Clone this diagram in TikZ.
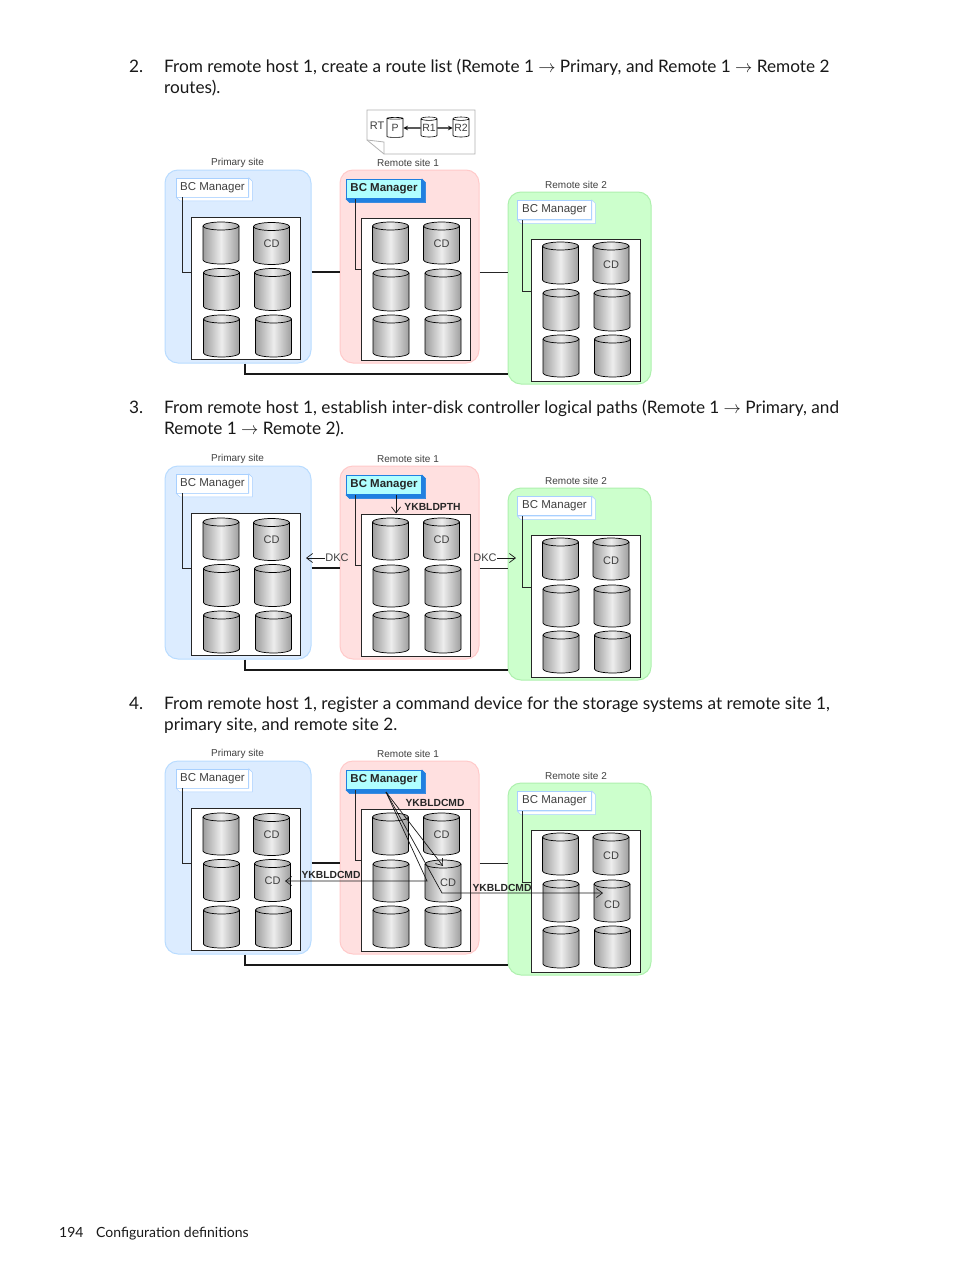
\documentclass[tikz,border=0pt]{standalone}
\usepackage{fontspec}
\setmainfont{Lato}
\newfontfamily\diagfont{Liberation Sans}
\usetikzlibrary{shapes.geometric,arrows.meta}
\definecolor{siteblue}{HTML}{DCECFF}
\definecolor{siteblueedge}{HTML}{B9DCFF}
\definecolor{sitered}{HTML}{FFE0E0}
\definecolor{siterededge}{HTML}{FFCACA}
\definecolor{sitegreen}{HTML}{CCFFCC}
\definecolor{sitegreenedge}{HTML}{AEF0AE}
\definecolor{mgrcyan}{HTML}{B0FFFF}
\definecolor{mgrdark}{HTML}{2080E0}
\definecolor{mgrpale}{HTML}{A8D0FF}
\tikzstyle{arrow} = [->,>=stealth]
\tikzstyle{openarrow} = [-{Straight Barb[length=6pt,width=9pt]},black!90,line width=.7pt]
\tikzstyle{site} = [rounded corners=13pt,line width=1pt,inner sep=0pt,draw]
\tikzstyle{diskbox} = [draw=black!85,fill=white,line width=1pt,inner sep=0pt,minimum width=109pt,minimum height=142pt]
\tikzstyle{drumshade} = [left color=black!38,right color=black!38,middle color=black!7,draw=black,line width=.7pt]
\tikzstyle{drumspot} = [inner sep=0pt,minimum width=36pt,minimum height=42pt]
\tikzstyle{smalldrum} = [cylinder,shape border rotate=90,shape aspect=.25,draw=black,line width=.6pt,inner sep=0pt,fill=white,
  minimum width=16pt,minimum height=20pt,font=\diagfont\fontsize{10.5}{12}\selectfont,text=black!75]
\tikzstyle{cdtext} = [font=\diagfont\fontsize{11}{12}\selectfont,text=black!75,inner sep=0pt]
\tikzstyle{sitetext} = [font=\diagfont\fontsize{10}{12}\selectfont,text=black!75,inner sep=0pt]
\tikzstyle{boldtext} = [font=\diagfont\bfseries\fontsize{10.3}{12}\selectfont,text=black!85,inner sep=0pt]
\tikzstyle{mgrplain} = [draw=mgrpale,fill=white,line width=.6pt,inner sep=0pt,font=\diagfont\fontsize{11.5}{13}\selectfont,text=black!75]
\tikzstyle{mgrbold} = [draw=mgrdark,fill=mgrcyan,line width=.6pt,inner sep=0pt,font=\diagfont\bfseries\fontsize{11.5}{13}\selectfont,text=black!85]
\tikzstyle{wire} = [black!85,line width=.8pt]
\tikzstyle{link} = [black!90,line width=1.1pt]
\tikzstyle{body} = [anchor=base west,inner sep=0pt,font=\fontsize{17.2}{20}\selectfont,text=black!90]
\newcommand{\mgrside}[3]{\fill[#3,draw=#2,line width=.5pt] (#1.south west) -- ++(3.5,3.5) -| ([shift={(3.5pt,-3.5pt)}]#1.north east) -- (#1.north east) -- (#1.south east) -- cycle;}
\newcommand{\drumat}[3]{%
  \shade[drumshade] ({#2-18},{#3-17}) -- ({#2-18},{#3+17}) arc[start angle=180,end angle=360,x radius=18pt,y radius=4pt]
    -- ({#2+18},{#3-17}) arc[start angle=0,end angle=180,x radius=18pt,y radius=4pt] -- cycle;
  \draw[black,line width=.7pt] ({#2-18},{#3-17}) arc[start angle=180,end angle=360,x radius=18pt,y radius=4pt];
  \node[drumspot] at (#2,#3) (#1) {};}
\begin{document}
\begin{tikzpicture}[x=1pt,y=-1pt]
        \useasboundingbox (0,0) rectangle (954,1271);
        \fill[white] (0,0) rectangle (954,1271);

        % step text
        \node[body] (n2) at (129,73) {2.};
        \node[body] (t2a) at (164,73) {From remote host 1, create a route list (Remote 1 $\rightarrow$ Primary, and Remote 1 $\rightarrow$ Remote 2};
        \node[body] (t2b) at (164,94) {routes).};
        \node[body] (n3) at (129,413) {3.};
        \node[body] (t3a) at (164,413) {From remote host 1, establish inter-disk controller logical paths (Remote 1 $\rightarrow$ Primary, and};
        \node[body] (t3b) at (164,434) {Remote 1 $\rightarrow$ Remote 2).};
        \node[body] (n4) at (129,709) {4.};
        \node[body] (t4a) at (164,709) {From remote host 1, register a command device for the storage systems at remote site 1,};
        \node[body] (t4b) at (164,730) {primary site, and remote site 2.};
        \node[body,font=\fontsize{14}{17}\selectfont] (pageno) at (59,1237) {194};
        \node[body,font=\fontsize{14}{17}\selectfont] (foot) at (96,1237) {Configuration definitions};

        % route list note
        \draw[black!30,fill=white,line width=.8pt] (367,110) -- (475,110) -- (475,154) -- (384,154) -- (367,140) -- cycle;
        \draw[black!30,line width=.8pt] (367,140) -- (384,142) -- (384,154);
        \node[cdtext] (rt) at (377,126) {RT};
        \node[smalldrum] (rtP) at (395,128) {P};
        \node[smalldrum] (rtA) at (429,128) {R1};
        \node[smalldrum] (rtB) at (461,128) {R2};
        \draw[arrow,line width=1.1pt] (rtA) -- (rtP);
        \draw[arrow,line width=1.1pt] (rtA) -- (rtB);

        \foreach \p/\dy in {a/0,b/296,c/591}{
        \begin{scope}[shift={(0,\dy)}]
        \node[site,draw=siteblueedge,fill=siteblue,minimum width=146pt,minimum height=193pt] at (238,266.5) (\p siteA) {};
        \node[site,draw=siterededge,fill=sitered,minimum width=139pt,minimum height=193pt] at (409.5,266.5) (\p siteB) {};
        \node[site,draw=sitegreenedge,fill=sitegreen,minimum width=143pt,minimum height=192pt] at (579.5,288) (\p siteC) {};
        \node[sitetext] at (237.5,162.5) (\p capA) {Primary site};
        \node[sitetext] at (408,162.5) (\p capB) {Remote site 1};
        \node[sitetext] at (576,184.5) (\p capC) {Remote site 2};

        \node[diskbox] at (246,288) (\p boxA) {};
        \node[diskbox] at (416,289) (\p boxB) {};
        \node[diskbox] at (586,310) (\p boxC) {};

        \foreach \q/\x/\y in {A1/221/243,A2/271.5/243.5,A3/221.5/289.5,A4/272.5/289.5,A5/221.5/336,A6/273.5/336,
                              B1/390.5/243,B2/441.5/243,B3/391/290,B4/443/290,B5/391/336,B6/443/336,
                              C1/560.5/263,C2/611/263,C3/561/310,C4/612/310,C5/561/356,C6/612.5/356}{
            \drumat{\p drum\q}{\x}{\y}
        }
        \foreach \q/\x/\y in {A2/271.5/244,B2/441.5/243.5,C2/611/265}
            \node[cdtext] at (\x,\y) (\p cd\q) {CD};

        \node[mgrplain,minimum width=72pt,minimum height=19pt] at (212.5,187.5) (\p mgrA) {BC Manager};
        \node[mgrbold,minimum width=75.5pt,minimum height=19.5pt] at (384,189) (\p mgrB) {BC Manager};
        \node[mgrplain,minimum width=74pt,minimum height=19.5pt] at (554.5,210) (\p mgrC) {BC Manager};
        \mgrside{\p mgrA}{mgrpale}{white}
        \mgrside{\p mgrB}{mgrdark}{mgrdark}
        \mgrside{\p mgrC}{mgrpale}{white}

        \draw[wire] ([xshift=6pt]\p mgrA.south west) |- ([yshift=16pt]\p boxA.west);
        \draw[wire] ([xshift=9pt]\p mgrB.south west) |- ([yshift=20pt]\p boxB.west);
        \draw[wire] ([xshift=5.5pt]\p mgrC.south west) |- ([yshift=19pt]\p boxC.west);

        \draw[link] ([yshift=-5.5pt]\p siteA.east) -- ([yshift=-5.5pt]\p siteB.west);
        \draw[wire] ([yshift=-5.5pt]\p siteB.east) -- ([yshift=16pt]\p siteC.west);
        \draw[link] ([xshift=7pt]\p siteA.south) |- ([yshift=-86pt]\p siteC.west);
        \end{scope}
        }

        % step 3: controller paths
        \node[sitetext,font=\diagfont\fontsize{11}{13}\selectfont] at (337,558) (dkcL) {DKC};
        \node[sitetext,font=\diagfont\fontsize{11}{13}\selectfont] at (485,558) (dkcR) {DKC};
        \node[boldtext] at (432.5,507) (pth) {YKBLDPTH};
        \coordinate (dkcLend) at (306,558);
        \coordinate (dkcRend) at (516,558);
        \draw[openarrow] (dkcL) -- (dkcLend);
        \draw[openarrow] (dkcR) -- (dkcRend);
        \draw[openarrow] ([xshift=12pt]bmgrB.south) -- ([xshift=-20pt]bboxB.north);

        % step 4: command devices
        \node[cdtext] at (272.5,881) (ccdA4) {CD};
        \node[cdtext] at (448,883) (ccdB4) {CD};
        \node[cdtext] at (612,905) (ccdC4) {CD};
        \node[boldtext] at (435,802.5) (cmdB) {YKBLDCMD};
        \node[boldtext] at (331,874.5) (cmdA) {YKBLDCMD};
        \node[boldtext] at (502,887.5) (cmdC) {YKBLDCMD};
        \coordinate (fan) at (386,792);
        \coordinate (kneeA) at (427,881);
        \coordinate (kneeC) at (442,893);
        \coordinate (endA) at (285,881);
        \coordinate (endB) at (443,866);
        \coordinate (endC) at (603,893);
        \draw[openarrow] (fan) -- (endB);
        \draw[openarrow] (fan) -- (kneeA) -- (endA);
        \draw[openarrow] (fan) -- (kneeC) -- (endC);
\end{tikzpicture}
\end{document}
